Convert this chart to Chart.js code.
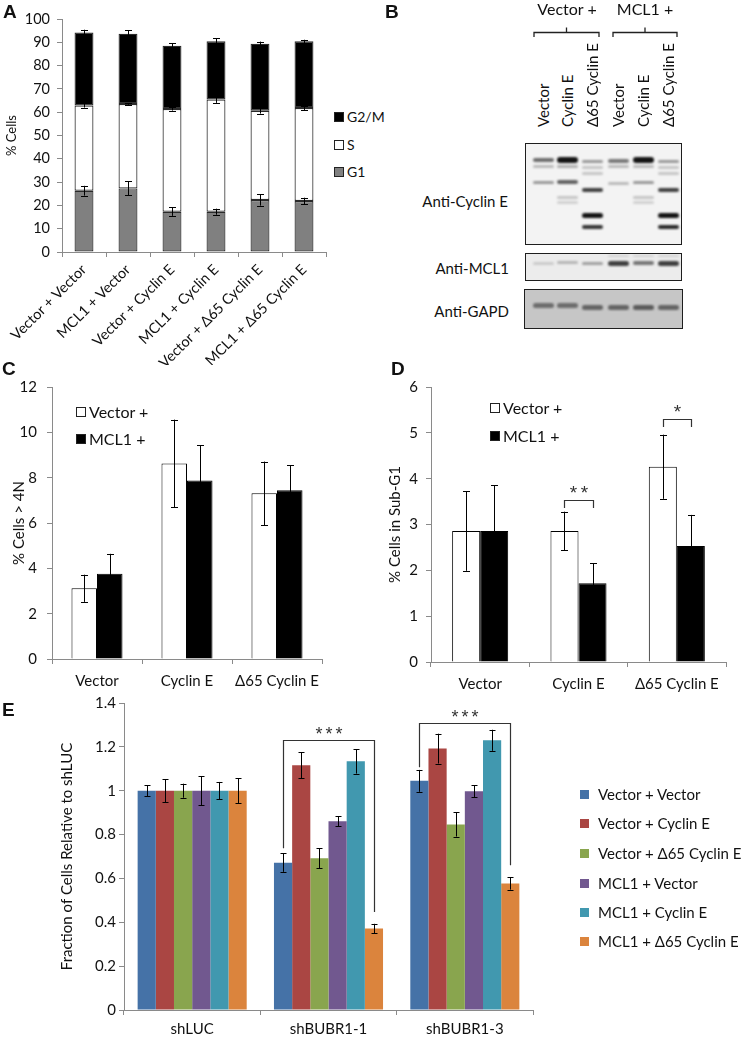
<!DOCTYPE html>
<html>
<head>
<meta charset="utf-8">
<script src="https://cdn.jsdelivr.net/npm/chart.js@4.4.1/dist/chart.umd.min.js"></script>
<style>
  body { margin: 0; background: #fff; font-family: Lato, "Liberation Sans", sans-serif; color: #111; }
  #page { position: relative; width: 742px; height: 1038px; overflow: hidden; background: #fff; }
  canvas { position: absolute; }
  .letter { position: absolute; font: bold 19px "Liberation Sans", Arial, sans-serif; line-height: 20px; }
  .legend-item { position: absolute; font-size: 15px; line-height: 18px; white-space: nowrap; display: flex; align-items: center; }
  .swatch { display: inline-block; width: 10px; height: 10px; border: 1px solid #222; box-sizing: border-box; margin-right: 3px; }
  .txt { position: absolute; font-size: 15px; line-height: 18px; white-space: nowrap; }
  .lane { position: absolute; font-size: 15px; line-height: 18px; white-space: nowrap; transform: rotate(-90deg); transform-origin: 0 0; }
  .blot { position: absolute; border: 1.5px solid #1e1e1e; box-sizing: border-box; overflow: hidden; }
  .band { position: absolute; border-radius: 3px; filter: blur(1.3px); }
</style>
</head>
<body>
<div id="page">
  <canvas id="chartA" width="330" height="365" style="left:0px;top:0px"></canvas>
  <canvas id="chartC" width="335" height="335" style="left:0px;top:360px"></canvas>
  <canvas id="chartD" width="372" height="335" style="left:370px;top:360px"></canvas>
  <canvas id="chartE" width="742" height="348" style="left:0px;top:690px"></canvas>

  <div class="letter" style="left:3px;top:2px">A</div>
  <div class="letter" style="left:385px;top:2px">B</div>
  <div class="letter" style="left:2px;top:359px">C</div>
  <div class="letter" style="left:391px;top:359px">D</div>
  <div class="letter" style="left:2px;top:700px">E</div>

  <div id="blotArea"></div>
  <div id="legends"></div>
</div>

<script>
// ---- Panel A: cell cycle distribution ----
const phaseLabels = [
  "Vector + Vector",
  "MCL1 + Vector",
  "Vector + Cyclin E",
  "MCL1 + Cyclin E",
  "Vector + \u039465 Cyclin E",
  "MCL1 + \u039465 Cyclin E",
];
const g1Values = [26.3, 27.3, 17.3, 17.3, 22.3, 21.9];
const g1Errors = [2.1, 3.0, 1.8, 1.3, 2.4, 1.4];
const sValues = [36.6, 36.2, 44.1, 48.1, 38.3, 39.9];
const sErrors = [0.9, 0.3, 0.7, 1.4, 1.2, 1.0];
const g2mValues = [31.3, 30.2, 27.1, 25.0, 28.8, 28.6];
const g2mErrors = [1.2, 1.4, 1.2, 1.3, 0.9, 0.7];

// ---- Panels C and D ----
const treatmentLabels = ["Vector", "Cyclin E", "\u039465 Cyclin E"];
const polyVector = [3.12, 8.63, 7.31];
const polyVectorErr = [0.6, 1.93, 1.4];
const polyMcl1 = [3.76, 7.88, 7.44];
const polyMcl1Err = [0.88, 1.55, 1.1];

const subG1Vector = [2.86, 2.86, 4.26];
const subG1VectorErr = [0.87, 0.42, 0.7];
const subG1Mcl1 = [2.86, 1.72, 2.53];
const subG1Mcl1Err = [1.0, 0.44, 0.68];

// ---- Panel E ----
const hairpinLabels = ["shLUC", "shBUBR1-1", "shBUBR1-3"];
const comboLabels = [
  "Vector + Vector",
  "Vector + Cyclin E",
  "Vector + \u039465 Cyclin E",
  "MCL1 + Vector",
  "MCL1 + Cyclin E",
  "MCL1 + \u039465 Cyclin E",
];
const fractionValues = [
  [1.0, 0.672, 1.045],
  [1.0, 1.116, 1.192],
  [1.0, 0.692, 0.846],
  [1.0, 0.861, 0.998],
  [1.0, 1.134, 1.23],
  [1.0, 0.372, 0.577],
];
const fractionErrors = [
  [0.025, 0.042, 0.05],
  [0.052, 0.059, 0.068],
  [0.032, 0.045, 0.055],
  [0.067, 0.022, 0.027],
  [0.04, 0.056, 0.048],
  [0.056, 0.021, 0.028],
];
const comboColors = ["#4572A7", "#AA4643", "#89A54E", "#71588F", "#4198AF", "#DB843D"];

const axisColor = "#8a8a8a";
const textColor = "#111";
const fontFamily = "Lato, 'Liberation Sans', sans-serif";

// error bars drawn from each dataset's "errors" array
const errorBarPlugin = {
  id: "errorBars",
  afterDatasetsDraw(chart, args, opts) {
    const ctx = chart.ctx;
    const y = chart.scales.y;
    const zero = y.getPixelForValue(0);
    const hw = (opts.capWidth || 7) / 2;
    ctx.save();
    ctx.strokeStyle = "#000";
    ctx.lineWidth = 1;
    chart.data.datasets.forEach((ds, i) => {
      if (!ds.errors) return;
      chart.getDatasetMeta(i).data.forEach((bar, j) => {
        const e = zero - y.getPixelForValue(ds.errors[j]);
        const x = Math.round(bar.x) + 0.5;
        ctx.beginPath();
        ctx.moveTo(x, bar.y - e);
        ctx.lineTo(x, bar.y + e);
        ctx.moveTo(x - hw, Math.round(bar.y - e) + 0.5);
        ctx.lineTo(x + hw, Math.round(bar.y - e) + 0.5);
        ctx.moveTo(x - hw, Math.round(bar.y + e) + 0.5);
        ctx.lineTo(x + hw, Math.round(bar.y + e) + 0.5);
        ctx.stroke();
      });
    });
    ctx.restore();
  },
};

// significance brackets between two bars of the same category
const bracketPlugin = {
  id: "brackets",
  afterDatasetsDraw(chart, args, opts) {
    const items = opts.items || [];
    if (!items.length) return;
    const ctx = chart.ctx;
    const y = chart.scales.y;
    ctx.save();
    ctx.strokeStyle = "#333";
    ctx.lineWidth = 1.2;
    ctx.fillStyle = "#333";
    ctx.font = (opts.fontSize || 15) + "px 'Liberation Sans', Arial, sans-serif";
    ctx.textAlign = "center";
    ctx.textBaseline = "alphabetic";
    items.forEach((b) => {
      const x1 = Math.round(chart.getDatasetMeta(b.from).data[b.index].x) + 0.5;
      const x2 = Math.round(chart.getDatasetMeta(b.to).data[b.index].x) + 0.5;
      const yt = Math.round(y.getPixelForValue(b.top)) + 0.5;
      ctx.beginPath();
      ctx.moveTo(x1, y.getPixelForValue(b.leftEnd));
      ctx.lineTo(x1, yt);
      ctx.lineTo(x2, yt);
      ctx.lineTo(x2, y.getPixelForValue(b.rightEnd));
      ctx.stroke();
      const chars = b.label.split("");
      const mid = (x1 + x2) / 2;
      const sp = opts.spacing || 10;
      chars.forEach((c, k) => {
        ctx.fillText(c, mid + (k - (chars.length - 1) / 2) * sp, yt + (opts.labelOffset || -4));
      });
    });
    ctx.restore();
  },
};

function axisX(height, fontSize, padding, extra) {
  return Object.assign({
    grid: { drawOnChartArea: false, tickLength: 5, color: axisColor },
    border: { color: axisColor },
    ticks: { color: textColor, font: { family: fontFamily, size: fontSize }, padding: padding, autoSkip: false },
    afterFit: (s) => { s.height = height; },
  }, extra || {});
}

function axisY(width, max, step, fontSize, padding, title, titlePad) {
  return {
    min: 0,
    max: max,
    grid: { drawOnChartArea: false, tickLength: 5, color: axisColor },
    border: { color: axisColor },
    ticks: {
      stepSize: step,
      color: textColor,
      font: { family: fontFamily, size: fontSize },
      padding: padding,
      callback: (v) => String(+v.toFixed(1)),
    },
    title: {
      display: true,
      text: title,
      color: textColor,
      font: { family: fontFamily, size: fontSize },
      padding: { top: titlePad, bottom: 0 },
    },
    afterFit: (s) => { s.width = width; },
  };
}

const baseOptions = (padding) => ({
  responsive: false,
  animation: false,
  events: [],
  layout: { padding: padding },
  plugins: { legend: { display: false }, tooltip: { enabled: false } },
});

// ---- Chart A ----
const optsA = baseOptions({ top: 19, right: 4, left: 0, bottom: 0 });
optsA.plugins.errorBars = { capWidth: 7 };
optsA.scales = {
  x: axisX(113, 14.5, 4, { stacked: true }),
  y: Object.assign(axisY(62, 100, 10, 14.5, 7, "% Cells", 4), { stacked: true }),
};
optsA.scales.x.ticks.minRotation = 45;
optsA.scales.x.ticks.maxRotation = 45;
optsA.scales.y.title.font = { family: fontFamily, size: 13 };

new Chart(document.getElementById("chartA"), {
  type: "bar",
  data: {
    labels: phaseLabels,
    datasets: [
      { label: "G1", data: g1Values, errors: g1Errors, backgroundColor: "#808080" },
      { label: "S", data: sValues, errors: sErrors, backgroundColor: "#ffffff" },
      { label: "G2/M", data: g2mValues, errors: g2mErrors, backgroundColor: "#000000" },
    ].map((d) => Object.assign(d, {
      borderColor: "#2b2b2b",
      borderWidth: 1.2,
      borderSkipped: false,
      barPercentage: 0.43,
      categoryPercentage: 1,
    })),
  },
  options: optsA,
  plugins: [errorBarPlugin],
});

// ---- Chart C ----
const optsC = baseOptions({ top: 27, right: 13, left: 0, bottom: 0 });
optsC.plugins.errorBars = { capWidth: 7 };
optsC.scales = {
  x: axisX(36, 15, 8),
  y: axisY(52, 12, 2, 15, 10, "% Cells > 4N", 10),
};

new Chart(document.getElementById("chartC"), {
  type: "bar",
  data: {
    labels: treatmentLabels,
    datasets: [
      { label: "Vector +", data: polyVector, errors: polyVectorErr, backgroundColor: "#fff" },
      { label: "MCL1 +", data: polyMcl1, errors: polyMcl1Err, backgroundColor: "#000" },
    ].map((d) => Object.assign(d, {
      borderColor: "#000",
      borderWidth: 1,
      barPercentage: 1,
      categoryPercentage: 0.567,
    })),
  },
  options: optsC,
  plugins: [errorBarPlugin],
});

// ---- Chart D ----
const optsD = baseOptions({ top: 27, right: 16, left: 0, bottom: 0 });
optsD.plugins.errorBars = { capWidth: 7 };
optsD.plugins.brackets = {
  spacing: 11,
  fontSize: 19,
  labelOffset: -2,
  items: [
    { index: 1, from: 0, to: 1, top: 3.54, leftEnd: 3.36, rightEnd: 3.36, label: "**" },
    { index: 2, from: 0, to: 1, top: 5.31, leftEnd: 5.13, rightEnd: 5.13, label: "*" },
  ],
};
optsD.scales = {
  x: axisX(33, 15, 8),
  y: axisY(61, 6, 1, 15, 8, "% Cells in Sub-G1", 16),
};

new Chart(document.getElementById("chartD"), {
  type: "bar",
  data: {
    labels: treatmentLabels,
    datasets: [
      { label: "Vector +", data: subG1Vector, errors: subG1VectorErr, backgroundColor: "#fff" },
      { label: "MCL1 +", data: subG1Mcl1, errors: subG1Mcl1Err, backgroundColor: "#000" },
    ].map((d) => Object.assign(d, {
      borderColor: "#000",
      borderWidth: 1,
      barPercentage: 1,
      categoryPercentage: 0.57,
    })),
  },
  options: optsD,
  plugins: [errorBarPlugin, bracketPlugin],
});

// ---- Chart E ----
const optsE = baseOptions({ top: 13, right: 209, left: 0, bottom: 0 });
optsE.plugins.errorBars = { capWidth: 6 };
optsE.plugins.brackets = {
  spacing: 10,
  fontSize: 18,
  labelOffset: -1,
  items: [
    { index: 1, from: 0, to: 5, top: 1.23, leftEnd: 0.738, rightEnd: 0.447, label: "***" },
    { index: 2, from: 0, to: 5, top: 1.307, leftEnd: 1.107, rightEnd: 0.66, label: "***" },
  ],
};
optsE.scales = {
  x: axisX(28, 15, 5),
  y: axisY(124, 1.4, 0.2, 15, 3, "Fraction of Cells Relative to shLUC", 58),
};

new Chart(document.getElementById("chartE"), {
  type: "bar",
  data: {
    labels: hairpinLabels,
    datasets: comboLabels.map((label, i) => ({
      label: label,
      data: fractionValues[i],
      errors: fractionErrors[i],
      backgroundColor: comboColors[i],
      borderWidth: 0,
      barPercentage: 1,
      categoryPercentage: 0.8,
    })),
  },
  options: optsE,
  plugins: [errorBarPlugin, bracketPlugin],
});

// ---- HTML legends ----
const legendBox = document.getElementById("legends");
function addLegend(items, x, ys, swatchBorder, fontSize) {
  items.forEach((it, i) => {
    const row = document.createElement("div");
    row.className = "legend-item";
    row.style.left = x + "px";
    row.style.top = ys[i] - 9 + "px";
    row.style.fontSize = fontSize + "px";
    const sw = document.createElement("span");
    sw.className = "swatch";
    sw.style.background = it.color;
    if (!swatchBorder) {
      sw.style.border = "none";
      sw.style.width = "9px";
      sw.style.height = "9px";
      sw.style.marginRight = "9px";
    }
    row.appendChild(sw);
    row.appendChild(document.createTextNode(it.label));
    legendBox.appendChild(row);
  });
}
addLegend([
  { label: "G2/M", color: "#000" },
  { label: "S", color: "#fff" },
  { label: "G1", color: "#808080" },
], 334, [117, 145, 172], true, 14);
addLegend([
  { label: "Vector +", color: "#fff" },
  { label: "MCL1 +", color: "#000" },
], 76, [412, 439], true, 16);
addLegend([
  { label: "Vector +", color: "#fff" },
  { label: "MCL1 +", color: "#000" },
], 490, [408, 436], true, 16);
addLegend(comboLabels.map((l, i) => ({ label: l, color: comboColors[i] })),
  580, [794, 823, 853, 883, 912, 941], false, 15);

// ---- Panel B: western blot (decorative drawing) ----
const blotArea = document.getElementById("blotArea");
const laneNames = ["Vector", "Cyclin E", "\u039465 Cyclin E", "Vector", "Cyclin E", "\u039465 Cyclin E"];
const laneX = [543, 567, 592, 618, 643, 668];

function el(cls, css, text) {
  const d = document.createElement("div");
  d.className = cls;
  Object.assign(d.style, css);
  if (text) d.textContent = text;
  blotArea.appendChild(d);
  return d;
}

el("txt", { left: "534px", top: "0px", width: "66px", textAlign: "center", fontSize: "16px" }, "Vector +");
el("txt", { left: "612px", top: "0px", width: "66px", textAlign: "center", fontSize: "16px" }, "MCL1 +");
const svgNS = "http://www.w3.org/2000/svg";
const svg = document.createElementNS(svgNS, "svg");
svg.setAttribute("width", "742");
svg.setAttribute("height", "60");
svg.style.position = "absolute";
svg.style.left = "0px";
svg.style.top = "0px";
[[534, 599], [613, 677]].forEach(([a, b]) => {
  const p = document.createElementNS(svgNS, "path");
  const m = (a + b) / 2;
  p.setAttribute("d", `M${a} 37 V32.5 H${b} V37 M${m} 32.5 V27.5`);
  p.setAttribute("stroke", "#222");
  p.setAttribute("stroke-width", "1.3");
  p.setAttribute("fill", "none");
  svg.appendChild(p);
});
blotArea.appendChild(svg);

laneNames.forEach((name, i) => {
  el("lane", { left: laneX[i] - 9 + "px", top: "127px" }, name);
});

el("txt", { left: "400px", top: "192px", width: "108px", textAlign: "right", fontSize: "15px" }, "Anti-Cyclin E");
el("txt", { left: "400px", top: "259px", width: "109px", textAlign: "right", fontSize: "15px" }, "Anti-MCL1");
el("txt", { left: "400px", top: "302px", width: "109px", textAlign: "right", fontSize: "15px" }, "Anti-GAPD");

const boxes = [
  { x: 525, y: 143, w: 157, h: 102, bg: "#f3f3f3" },
  { x: 525, y: 253, w: 157, h: 28, bg: "#ececec" },
  { x: 524, y: 289, w: 159, h: 40, bg: "#c6c6c6" },
];
boxes.forEach((b) => el("blot", { left: b.x + "px", top: b.y + "px", width: b.w + "px", height: b.h + "px", background: b.bg }));

// [lane index, y, darkness, thickness]
const bands = [
  [0, 160, 0.6, 4], [1, 160, 1.0, 6], [2, 161, 0.4, 3], [3, 161, 0.55, 4], [4, 160, 1.0, 6], [5, 161, 0.4, 3],
  [0, 166, 0.25, 3], [1, 166, 0.3, 3], [2, 167, 0.2, 3], [3, 166, 0.25, 3], [4, 166, 0.25, 3], [5, 167, 0.2, 3],
  [2, 173, 0.2, 3], [5, 173, 0.2, 3],
  [0, 182, 0.4, 3], [1, 182, 0.65, 4], [3, 183, 0.25, 3], [4, 182, 0.4, 3],
  [2, 190, 0.8, 4], [5, 190, 0.8, 4],
  [1, 197, 0.2, 3], [4, 197, 0.2, 3], [1, 202, 0.15, 3], [4, 202, 0.15, 3],
  [2, 215, 1.0, 5], [5, 215, 1.0, 5],
  [2, 227, 0.85, 4], [5, 227, 0.9, 4],
  [0, 263, 0.15, 3], [1, 262, 0.25, 3], [2, 263, 0.35, 3], [3, 263, 0.8, 5], [4, 263, 0.55, 4], [5, 263, 0.8, 5],
  [3, 256, 0.12, 2], [4, 256, 0.12, 2], [5, 256, 0.12, 2],
  [0, 305, 0.5, 5], [1, 305, 0.5, 5], [2, 307, 0.55, 5], [3, 307, 0.55, 5], [4, 307, 0.6, 5], [5, 307, 0.55, 5],
];
bands.forEach(([lane, y, a, h]) => {
  el("band", {
    left: laneX[lane] - 10 + "px",
    top: y - h / 2 + "px",
    width: "21px",
    height: h + "px",
    background: `rgba(20,20,20,${a})`,
  });
});
</script>
</body>
</html>
